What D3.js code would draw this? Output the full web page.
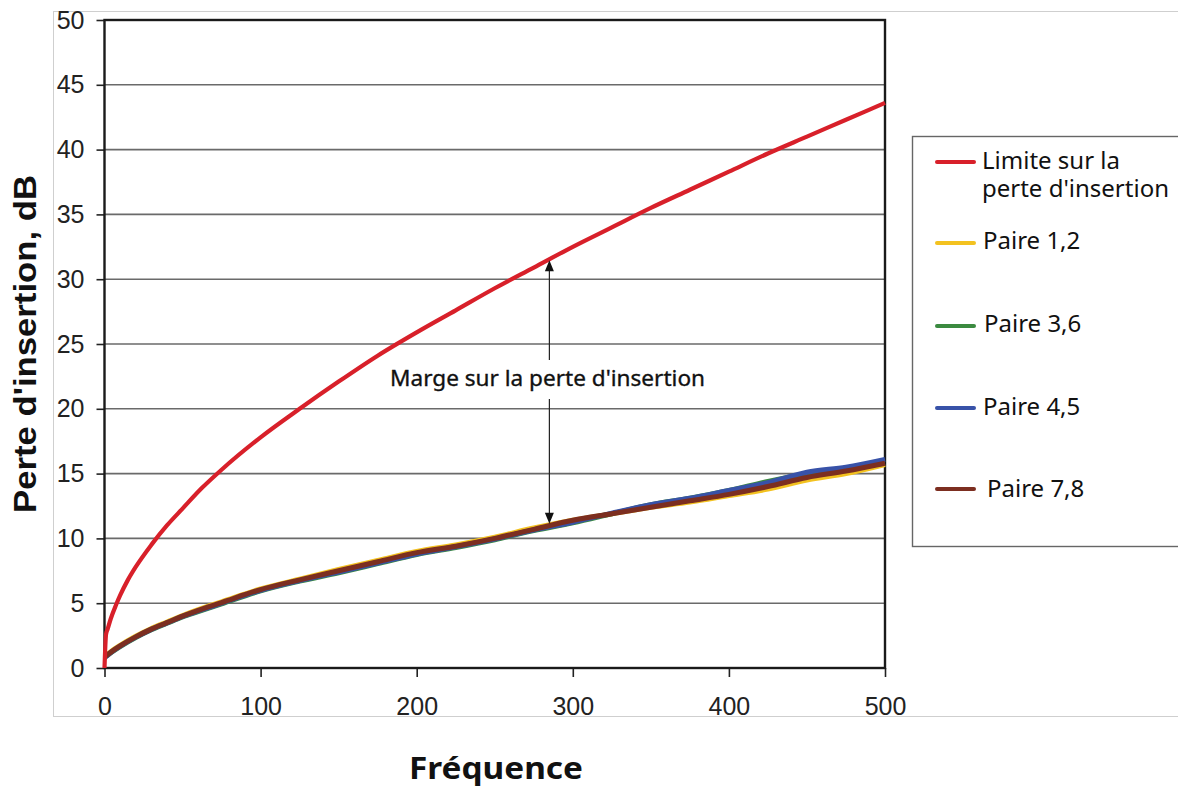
<!DOCTYPE html>
<html>
<head>
<meta charset="utf-8">
<script src="https://cdn.jsdelivr.net/npm/d3@7"></script>
<style>
  html, body { margin: 0; padding: 0; background: #fff; }
  svg { display: block; }
</style>
</head>
<body>
<svg id="chart" width="1178" height="787"></svg>
<script>
// Insertion-loss limit and the measured insertion loss of each pair (dB vs frequency, MHz)
const limitFreq = [0, 1, 2, 4, 7.5, 10, 15, 20, 30, 40, 50, 62.5, 75, 100, 125, 150, 175, 200, 225, 250, 275, 300, 325, 350, 375, 400, 425, 450, 475, 500];
const limitDb   = [0, 2.6, 3.0, 3.8, 4.9, 5.6, 6.8, 7.8, 9.5, 11.0, 12.3, 13.9, 15.3, 17.8, 20.0, 22.1, 24.1, 25.9, 27.6, 29.3, 30.9, 32.5, 34.0, 35.5, 36.9, 38.3, 39.7, 41.0, 42.3, 43.6];

const pairFreq = [0, 5, 10, 20, 30, 40, 50, 60, 75, 100, 125, 150, 175, 200, 225, 250, 275, 300, 325, 350, 375, 400, 425, 450, 475, 500];
const pair12 = [0.85, 1.35, 1.75, 2.45, 3.05, 3.55, 4.05, 4.5, 5.1, 6.1, 6.85, 7.6, 8.3, 9.0, 9.5, 10.1, 10.8, 11.4, 11.9, 12.4, 12.8, 13.3, 13.8, 14.5, 15.0, 15.7];
const pair36 = [0.8, 1.25, 1.65, 2.35, 2.95, 3.45, 3.95, 4.35, 4.95, 5.95, 6.7, 7.35, 8.05, 8.75, 9.3, 9.9, 10.6, 11.2, 11.9, 12.6, 13.1, 13.7, 14.4, 15.0, 15.4, 15.8];
const pair45 = [0.8, 1.28, 1.68, 2.38, 2.98, 3.48, 3.98, 4.4, 5.0, 6.0, 6.75, 7.4, 8.1, 8.8, 9.35, 9.95, 10.65, 11.25, 11.95, 12.6, 13.1, 13.7, 14.3, 15.1, 15.5, 16.1];
const pair78 = [0.85, 1.3, 1.7, 2.4, 3.0, 3.5, 4.0, 4.45, 5.05, 6.05, 6.8, 7.5, 8.2, 8.9, 9.4, 10.0, 10.7, 11.4, 11.9, 12.4, 12.9, 13.4, 14.0, 14.7, 15.2, 15.8];

const seriesNames = ["Limite sur la perte d'insertion", "Paire 1,2", "Paire 3,6", "Paire 4,5", "Paire 7,8"];
const seriesColors = ["#d8202a", "#f3c220", "#3b8a40", "#3852a8", "#7c2e20"];

const xTicks = [0, 100, 200, 300, 400, 500];
const yTicks = [0, 5, 10, 15, 20, 25, 30, 35, 40, 45, 50];

const annotationText = "Marge sur la perte d'insertion";
const annotationFreq = 285;

const svg = d3.select("#chart");
const plot = { left: 104.5, right: 885, top: 20, bottom: 668 };

const x = d3.scaleLinear().domain([0, 500]).range([plot.left, plot.right]);
const y = d3.scaleLinear().domain([0, 50]).range([plot.bottom, plot.top]);

// outer chart-area frame (runs past the right edge)
svg.append("rect")
  .attr("x", 53.5).attr("y", 11.5).attr("width", 1200).attr("height", 705)
  .attr("fill", "none").attr("stroke", "#cfcfcf").attr("stroke-width", 1);

// horizontal gridlines
svg.append("g")
  .selectAll("line").data(yTicks.filter(t => t > 0 && t < 50)).join("line")
  .attr("x1", plot.left).attr("x2", plot.right)
  .attr("y1", d => y(d)).attr("y2", d => y(d))
  .attr("stroke", "#6a6a6a").attr("stroke-width", 1.6);

// axes
const tickFont = "'Liberation Sans', Arial, sans-serif";
const yAxis = svg.append("g").attr("transform", `translate(${plot.left},0)`)
  .call(d3.axisLeft(y).tickValues(yTicks).tickSize(8).tickPadding(12).tickFormat(d3.format("d")));
const xAxis = svg.append("g").attr("transform", `translate(0,${plot.bottom})`)
  .call(d3.axisBottom(x).tickValues(xTicks).tickSize(9).tickPadding(20).tickFormat(d3.format("d")));
[yAxis, xAxis].forEach(a => {
  a.select(".domain").remove();
  a.selectAll(".tick line").attr("stroke", "#222").attr("stroke-width", 1.6);
  a.selectAll(".tick text").attr("font-family", tickFont).attr("font-size", 25).attr("fill", "#222");
});

// plot frame
svg.append("rect")
  .attr("x", plot.left).attr("y", plot.top)
  .attr("width", plot.right - plot.left).attr("height", plot.bottom - plot.top)
  .attr("fill", "none").attr("stroke", "#1a1a1a").attr("stroke-width", 2.4);

// series
const line = d3.line().x(d => x(d[0])).y(d => y(d[1])).curve(d3.curveMonotoneX);
const zip = (fs, vs) => fs.map((f, i) => [f, vs[i]]);
const series = [
  { name: seriesNames[1], color: seriesColors[1], pts: zip(pairFreq, pair12) },
  { name: seriesNames[2], color: seriesColors[2], pts: zip(pairFreq, pair36) },
  { name: seriesNames[3], color: seriesColors[3], pts: zip(pairFreq, pair45) },
  { name: seriesNames[4], color: seriesColors[4], pts: zip(pairFreq, pair78) },
  { name: seriesNames[0], color: seriesColors[0], pts: zip(limitFreq, limitDb) }
];
svg.append("g").selectAll("path").data(series).join("path")
  .attr("d", d => line(d.pts))
  .attr("fill", "none")
  .attr("stroke", d => d.color)
  .attr("stroke-width", d => d.name === seriesNames[0] ? 4.2 : 5)
  .attr("stroke-linejoin", "round");

// margin annotation: double arrow between the limit and the pairs
const interp = (fs, vs, f) => {
  const i = d3.bisectRight(fs, f) - 1;
  const t = (f - fs[i]) / (fs[i + 1] - fs[i]);
  return vs[i] + t * (vs[i + 1] - vs[i]);
};
const ax = x(annotationFreq);
const yTop = y(interp(limitFreq, limitDb, annotationFreq)) + 1;
const yBot = y(interp(pairFreq, pair78, annotationFreq)) - 2;
const ann = svg.append("g");
ann.append("line").attr("x1", ax).attr("x2", ax).attr("y1", 360).attr("y2", yTop + 9)
  .attr("stroke", "#222").attr("stroke-width", 1.2);
ann.append("line").attr("x1", ax).attr("x2", ax).attr("y1", 399).attr("y2", yBot - 9)
  .attr("stroke", "#222").attr("stroke-width", 1.2);
ann.append("path").attr("d", `M${ax},${yTop} L${ax - 4.5},${yTop + 11} L${ax + 4.5},${yTop + 11} Z`).attr("fill", "#111");
ann.append("path").attr("d", `M${ax},${yBot} L${ax - 4.5},${yBot - 11} L${ax + 4.5},${yBot - 11} Z`).attr("fill", "#111");
ann.append("text").attr("x", 390).attr("y", 386)
  .attr("textLength", 315).attr("lengthAdjust", "spacingAndGlyphs")
  .attr("font-family", "'Noto Sans', sans-serif").attr("font-size", 22)
  .attr("fill", "#111").attr("stroke", "#111").attr("stroke-width", 0.35)
  .text(annotationText);

// axis titles
svg.append("text")
  .attr("transform", "translate(36,513) rotate(-90)")
  .attr("textLength", 338).attr("lengthAdjust", "spacingAndGlyphs")
  .attr("font-family", "'Liberation Sans', Arial, sans-serif").attr("font-weight", "bold").attr("font-size", 32).attr("fill", "#111")
  .text("Perte d'insertion, dB");
svg.append("text")
  .attr("x", 409).attr("y", 779)
  .attr("textLength", 174).attr("lengthAdjust", "spacingAndGlyphs")
  .attr("font-family", "'Noto Sans', sans-serif").attr("font-weight", "bold").attr("font-size", 30).attr("fill", "#111")
  .text("Fréquence");

// legend
const legend = svg.append("g");
legend.append("rect").attr("x", 912.5).attr("y", 136.5).attr("width", 300).attr("height", 410)
  .attr("fill", "#fff").attr("stroke", "#666").attr("stroke-width", 1.4);
const legendRows = [
  { label: ["Limite sur la", "perte d'insertion"], color: seriesColors[0], y: 162, tx: 982, dy: 7 },
  { label: [seriesNames[1]], color: seriesColors[1], y: 243, tx: 983, dy: 6 },
  { label: [seriesNames[2]], color: seriesColors[2], y: 326, tx: 984, dy: 6 },
  { label: [seriesNames[3]], color: seriesColors[3], y: 408, tx: 983, dy: 7 },
  { label: [seriesNames[4]], color: seriesColors[4], y: 489, tx: 987, dy: 8 }
];
legendRows.forEach(r => {
  legend.append("line").attr("x1", 937).attr("x2", 974).attr("y1", r.y).attr("y2", r.y)
    .attr("stroke", r.color).attr("stroke-width", 4).attr("stroke-linecap", "round");
  r.label.forEach((s, i) => {
    legend.append("text")
      .attr("x", r.tx).attr("y", r.y + r.dy + i * 28)
      .attr("font-family", "'Noto Sans', sans-serif").attr("font-size", 24).attr("fill", "#111")
      .text(s);
  });
});
</script>
</body>
</html>
